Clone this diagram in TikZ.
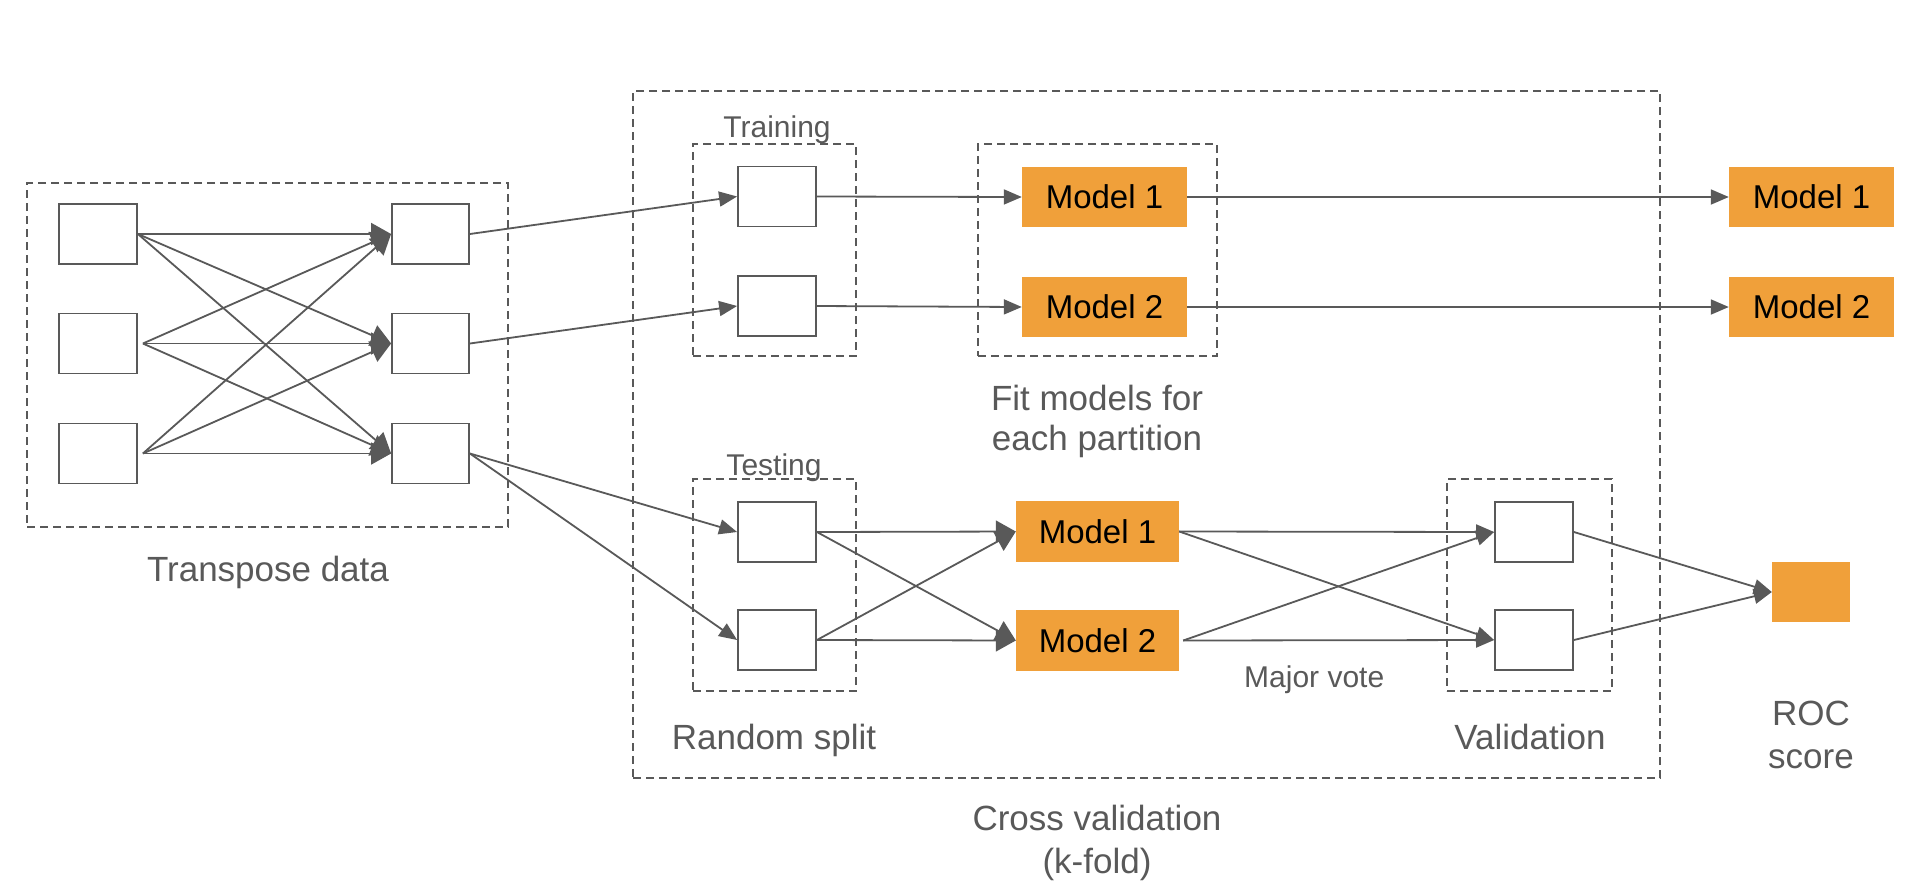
\documentclass[tikz,border=0pt]{standalone}
\usepackage{fontspec}
\setmainfont{Liberation Sans}
\usetikzlibrary{arrows.meta}
\definecolor{ln}{HTML}{595959}
\definecolor{org}{HTML}{F0A03A}
\begin{document}
\begin{tikzpicture}[x=1pt,y=-1pt,
  wbox/.style={draw=ln, line width=1.8pt, fill=white, minimum width=78pt, minimum height=60pt, inner sep=0pt},
  mbox/.style={fill=org, minimum width=165pt, minimum height=60pt, inner sep=0pt, font=\fontsize{33}{38}\selectfont, text=black},
  grp/.style={draw=ln, line width=1.8pt, dash pattern=on 8pt off 5pt, inner sep=0pt},
  conn/.style={draw=ln, line width=1.8pt, -{Triangle[length=18pt,width=15pt]}},
  bigconn/.style={draw=ln, line width=1.8pt, -{Triangle[length=20pt,width=22pt]}},
  lbl/.style={text=ln, font=\fontsize{35}{40}\selectfont, anchor=base, inner sep=0pt},
  slbl/.style={text=ln, font=\fontsize{30}{34}\selectfont, anchor=base, inner sep=0pt}]
\useasboundingbox (0,0) rectangle (1912,884);
\fill[white] (0,0) rectangle (1912,884);

% group boxes
\node[grp, minimum width=481pt, minimum height=344pt] (gtr) at (267.5,355) {};
\node[grp, minimum width=1027pt, minimum height=687pt] (gcv) at (1146.5,434.5) {};
\node[grp, minimum width=163pt, minimum height=212pt] (gtrain) at (774.5,250) {};
\node[grp, minimum width=239pt, minimum height=212pt] (gfit) at (1097.5,250) {};
\node[grp, minimum width=163pt, minimum height=212pt] (gtest) at (774.5,585) {};
\node[grp, minimum width=165pt, minimum height=212pt] (gval) at (1529.5,585) {};

% transpose boxes
\node[wbox] (l1) at (98,234) {};
\node[wbox] (l2) at (98,343.5) {};
\node[wbox] (l3) at (98,453.5) {};
\node[wbox, minimum width=77pt] (r1) at (430.5,234) {};
\node[wbox, minimum width=77pt] (r2) at (430.5,343.5) {};
\node[wbox, minimum width=77pt] (r3) at (430.5,453.5) {};

% training / testing
\node[wbox] (t1) at (777,196.5) {};
\node[wbox] (t2) at (777,306) {};
\node[wbox] (s1) at (777,532) {};
\node[wbox] (s2) at (777,640) {};

% models
\node[mbox] (m1) at (1104.5,197) {Model 1};
\node[mbox] (m2) at (1104.5,307) {Model 2};
\node[mbox] (rm1) at (1811.5,197) {Model 1};
\node[mbox] (rm2) at (1811.5,307) {Model 2};
\node[mbox, minimum width=163pt, minimum height=61pt] (bm1) at (1097.5,531.5) {Model 1};
\node[mbox, minimum width=163pt, minimum height=61pt] (bm2) at (1097.5,640.5) {Model 2};

% validation
\node[wbox] (v1) at (1534,532) {};
\node[wbox] (v2) at (1534,640) {};
\node[fill=org, minimum width=78pt, minimum height=60pt, inner sep=0pt] (roc) at (1811,592) {};

% labels
\node[lbl] (ltr) at (268,581) {Transpose data};
\node[slbl] (ltrain) at (777,137) {Training};
\node[slbl] (ltest) at (774,475) {Testing};
\node[lbl] (lfit1) at (1097,410) {Fit models for};
\node[lbl] (lfit2) at (1097,450) {each partition};
\node[lbl] (lrs) at (774,749) {Random split};
\node[lbl] (lval) at (1530,749) {Validation};
\node[slbl, anchor=base west] (lmv) at (1244,687) {Major vote};
\node[lbl] (lroc1) at (1811,725) {ROC};
\node[lbl] (lroc2) at (1811,768) {score};
\node[lbl] (lcv1) at (1097,830) {Cross validation};
\node[lbl] (lcv2) at (1097,873) {(k-fold)};

% transpose connectors
\foreach \a/\sh in {l1/0pt,l2/5pt,l3/5pt}{
  \foreach \b in {r1,r2,r3}{
    \draw[bigconn] ([xshift=\sh]\a.east) -- (\b.west);
  }
}

% to training/testing
\draw[conn] (r1.east) -- (t1.west);
\draw[conn] (r2.east) -- (t2.west);
\draw[conn] (r3.east) -- (s1.west);
\draw[conn] (r3.east) -- (s2.west);

% training to models
\draw[conn] (t1.east) -- (m1.west);
\draw[conn] (t2.east) -- (m2.west);
\draw[conn] (m1.east) -- (rm1.west);
\draw[conn] (m2.east) -- (rm2.west);

% testing to models
\draw[bigconn] (s1.east) -- (bm1.west);
\draw[bigconn] (s1.east) -- (bm2.west);
\draw[bigconn] (s2.east) -- (bm1.west);
\draw[bigconn] (s2.east) -- (bm2.west);

% models to validation
\draw[conn] (bm1.east) -- (v1.west);
\draw[conn] (bm1.east) -- (v2.west);
\draw[conn] ([xshift=4pt]bm2.east) -- (v1.west);
\draw[conn] ([xshift=4pt]bm2.east) -- (v2.west);

% validation to ROC
\draw[conn] (v1.east) -- (roc.west);
\draw[conn] (v2.east) -- (roc.west);
\end{tikzpicture}
\end{document}
